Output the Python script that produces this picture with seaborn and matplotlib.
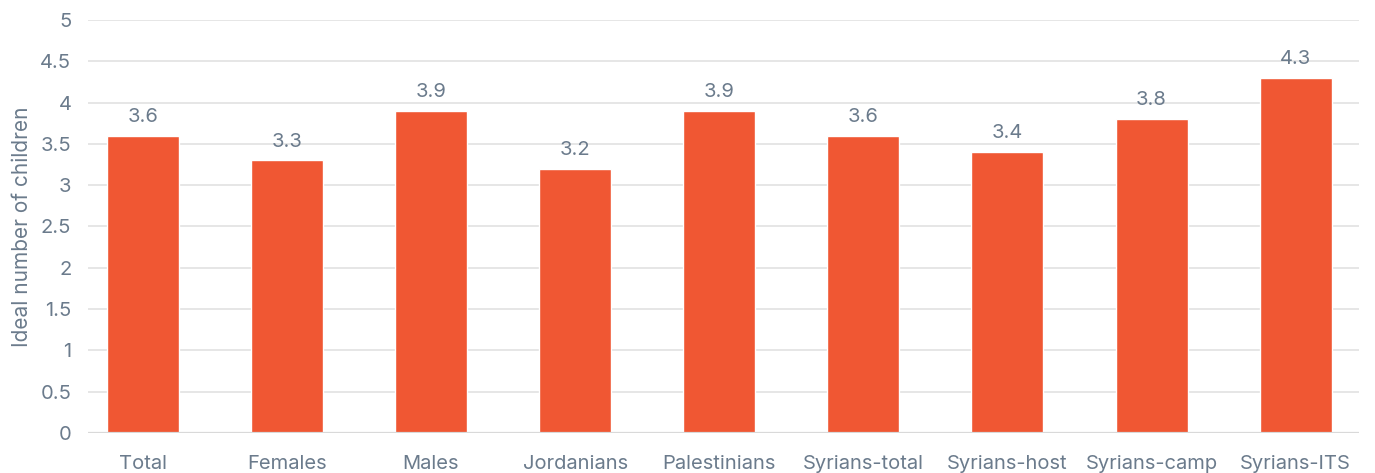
import matplotlib
matplotlib.use("Agg")
import matplotlib.pyplot as plt
import seaborn as sns
import pandas as pd

categories = ["Total", "Females", "Males", "Jordanians", "Palestinians",
              "Syrians-total", "Syrians-host", "Syrians-camp", "Syrians-ITS"]
ideal_children = [3.6, 3.3, 3.9, 3.2, 3.9, 3.6, 3.4, 3.8, 4.3]
y_ticks = [0, 0.5, 1, 1.5, 2, 2.5, 3, 3.5, 4, 4.5, 5]

sns.set_theme(style="white")
plt.rcParams["font.family"] = ["Inter", "DejaVu Sans"]

text_color = "#6b7b8c"
bar_color = "#f05733"
grid_color = "#e1e1e1"

df = pd.DataFrame({"group": categories, "value": ideal_children})

fig = plt.figure(figsize=(13.75, 4.73), dpi=100)
ax = fig.add_axes([0.064, 0.0846, 0.9244, 0.8731])

sns.barplot(data=df, x="group", y="value", color=bar_color, saturation=1,
            width=0.5, ax=ax, zorder=3)

ax.set_ylim(0, 5)
ax.set_xlim(-0.38, 8.44)
ax.set_yticks(y_ticks)
ax.set_yticklabels([f"{t:g}" for t in y_ticks])
ax.yaxis.grid(True, color=grid_color, linewidth=1.2, zorder=0)
ax.set_axisbelow(True)
for side in ["top", "right", "left", "bottom"]:
    ax.spines[side].set_visible(False)
ax.axhline(0, color="#d9d9d9", linewidth=1.6, zorder=4)

ax.tick_params(axis="y", length=0, pad=12, labelsize=14.5, labelcolor=text_color)
ax.tick_params(axis="x", length=0, pad=16, labelsize=14.5, labelcolor=text_color)
ax.set_xlabel("")
ax.set_ylabel("Ideal number of children", fontsize=15, color=text_color, labelpad=6)

for i, v in enumerate(ideal_children):
    ax.annotate(f"{v:.1f}", xy=(i, v), xytext=(0, 7), textcoords="offset points",
                ha="center", va="bottom", fontsize=14.5, color=text_color)

fig.savefig("out.png", dpi=100, facecolor="white")
